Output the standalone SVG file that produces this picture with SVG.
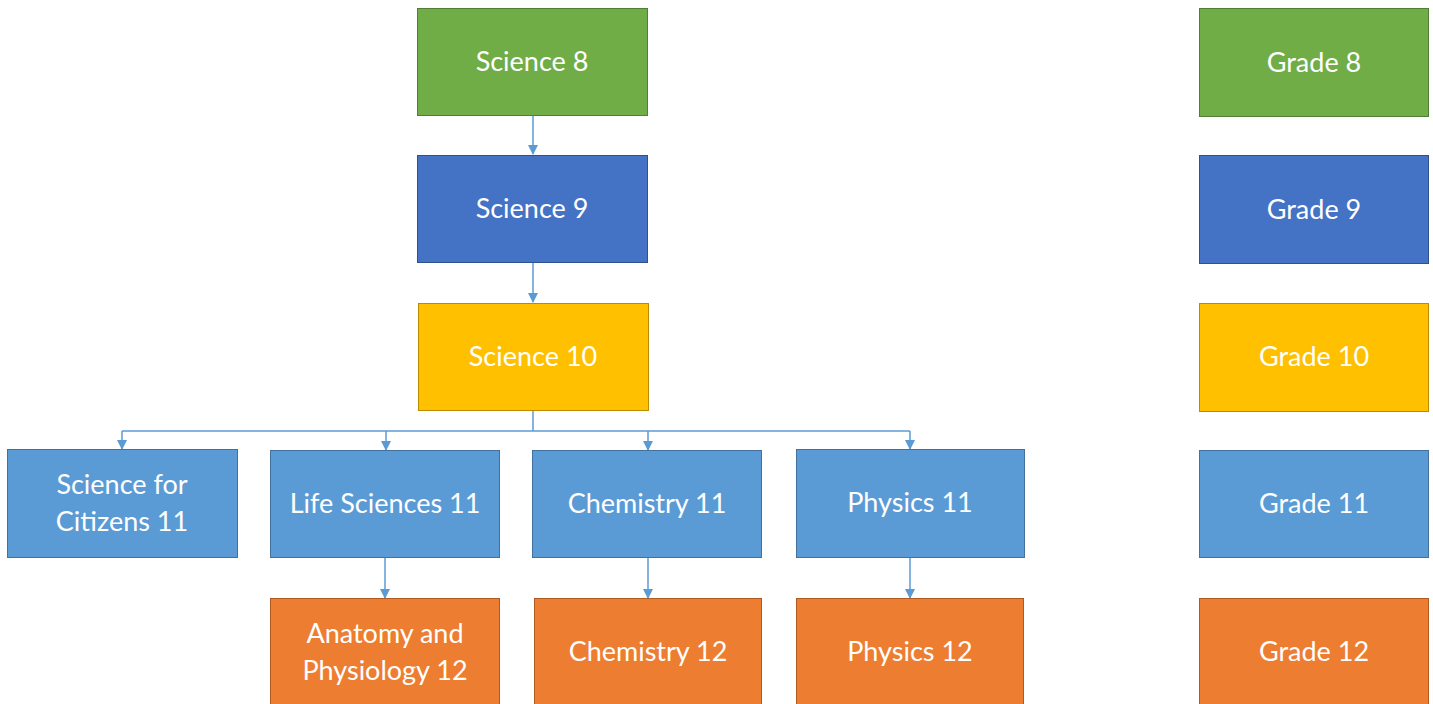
<svg xmlns="http://www.w3.org/2000/svg" width="1433" height="704" viewBox="0 0 1433 704">
  <style>
    .box { stroke-width: 1; }
    .g8 { fill: #70AD47; stroke: #507E32; }
    .g9 { fill: #4472C4; stroke: #2F528F; }
    .g10 { fill: #FFC000; stroke: #BC8C00; }
    .g11 { fill: #5B9BD5; stroke: #41719C; }
    .g12 { fill: #ED7D31; stroke: #AE5A21; }
    .lbl { font-family: Lato, "Open Sans", "Liberation Sans", sans-serif; font-size: 27px; fill: #FFFFFF; text-anchor: middle; }
    .conn { fill: none; stroke: #5B9BD5; stroke-width: 1.5; }
  </style>
  <defs>
    <marker id="arrow" markerWidth="10" markerHeight="10" refX="9" refY="5" orient="auto" markerUnits="userSpaceOnUse">
      <path d="M0,0 L10,5 L0,10 Z" fill="#5B9BD5"/>
    </marker>
  </defs>
  <rect width="1433" height="704" fill="#FFFFFF"/>

  <!-- arrows between course boxes -->
  <g id="connectors">
    <path class="conn" d="M533,115 L533,154" marker-end="url(#arrow)"/>
    <path class="conn" d="M533,263 L533,302" marker-end="url(#arrow)"/>
    <path class="conn" d="M533,411 L533,431"/>
    <path class="conn" d="M122,431 L910,431"/>
    <path class="conn" d="M122,431 L122,449" marker-end="url(#arrow)"/>
    <path class="conn" d="M386,431 L386,450" marker-end="url(#arrow)"/>
    <path class="conn" d="M648,431 L648,450" marker-end="url(#arrow)"/>
    <path class="conn" d="M910,431 L910,449" marker-end="url(#arrow)"/>
    <path class="conn" d="M385,558 L385,598" marker-end="url(#arrow)"/>
    <path class="conn" d="M648,558 L648,598" marker-end="url(#arrow)"/>
    <path class="conn" d="M910,558 L910,598" marker-end="url(#arrow)"/>
  </g>

  <g id="science8"><rect class="box g8" x="417.5" y="8.5" width="230" height="107"/><text class="lbl" x="532" y="71">Science 8</text></g>
  <g id="science9"><rect class="box g9" x="417.5" y="155.5" width="230" height="107"/><text class="lbl" x="532" y="218">Science 9</text></g>
  <g id="science10"><rect class="box g10" x="418.5" y="303.5" width="230" height="107"/><text class="lbl" x="533" y="366">Science 10</text></g>

  <g id="citizens11"><rect class="box g11" x="7.5" y="449.5" width="230" height="108"/><text class="lbl" x="122" y="494">Science for</text><text class="lbl" x="122" y="531">Citizens 11</text></g>
  <g id="life11"><rect class="box g11" x="270.5" y="450.5" width="229" height="107"/><text class="lbl" x="385" y="513">Life Sciences 11</text></g>
  <g id="chem11"><rect class="box g11" x="532.5" y="450.5" width="229" height="107"/><text class="lbl" x="647" y="513">Chemistry 11</text></g>
  <g id="phys11"><rect class="box g11" x="796.5" y="449.5" width="228" height="108"/><text class="lbl" x="910" y="512">Physics 11</text></g>

  <g id="anatomy12"><rect class="box g12" x="270.5" y="598.5" width="229" height="110"/><text class="lbl" x="385" y="643">Anatomy and</text><text class="lbl" x="385" y="680">Physiology 12</text></g>
  <g id="chem12"><rect class="box g12" x="534.5" y="598.5" width="227" height="110"/><text class="lbl" x="648" y="661">Chemistry 12</text></g>
  <g id="phys12"><rect class="box g12" x="796.5" y="598.5" width="227" height="110"/><text class="lbl" x="910" y="661">Physics 12</text></g>

  <!-- grade legend -->
  <g id="grade8"><rect class="box g8" x="1199.5" y="8.5" width="229" height="108"/><text class="lbl" x="1314" y="72">Grade 8</text></g>
  <g id="grade9"><rect class="box g9" x="1199.5" y="155.5" width="229" height="108"/><text class="lbl" x="1314" y="219">Grade 9</text></g>
  <g id="grade10"><rect class="box g10" x="1199.5" y="303.5" width="229" height="108"/><text class="lbl" x="1314" y="366">Grade 10</text></g>
  <g id="grade11"><rect class="box g11" x="1199.5" y="450.5" width="229" height="107"/><text class="lbl" x="1314" y="513">Grade 11</text></g>
  <g id="grade12"><rect class="box g12" x="1199.5" y="598.5" width="229" height="110"/><text class="lbl" x="1314" y="661">Grade 12</text></g>
</svg>
